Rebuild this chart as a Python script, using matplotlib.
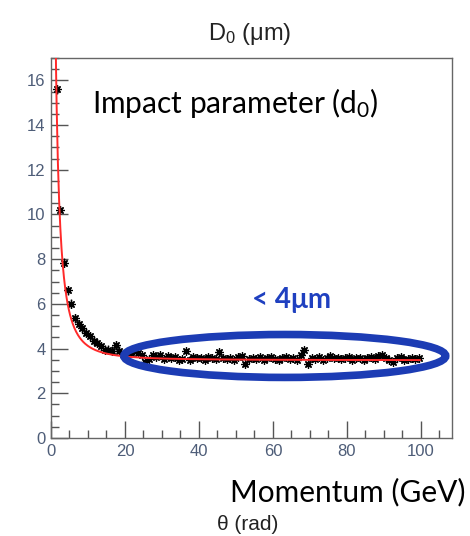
import numpy as np
import matplotlib
matplotlib.use("Agg")
import matplotlib.pyplot as plt
from matplotlib.patches import Ellipse
from matplotlib.ticker import MultipleLocator

# Measured impact-parameter resolution per momentum bin (1 GeV bins)
bin_low = 1.0
bin_width = 1.0
d0_res = [
    15.6, 10.2, 7.85, 6.6, 6.0, 5.35, 5.1, 4.9, 4.7, 4.55,
    4.35, 4.25, 4.1, 3.95, 3.95, 3.9, 4.15, 3.9, 3.75, 3.7,
    3.8, 3.95, 3.8, 3.7, 3.4, 3.55, 3.7, 3.62, 3.72, 3.55,
    3.66, 3.58, 3.62, 3.48, 3.55, 3.9, 3.5, 3.62, 3.56, 3.6,
    3.5, 3.64, 3.57, 3.52, 3.85, 3.6, 3.55, 3.58, 3.5, 3.62,
    3.66, 3.3, 3.55, 3.6, 3.52, 3.64, 3.5, 3.58, 3.62, 3.55,
    3.48, 3.6, 3.64, 3.52, 3.58, 3.5, 3.7, 3.95, 3.3, 3.6,
    3.55, 3.62, 3.5, 3.6, 3.68, 3.56, 3.6, 3.52, 3.58, 3.62,
    3.5, 3.56, 3.6, 3.48, 3.58, 3.62, 3.55, 3.66, 3.72, 3.56,
    3.5, 3.42, 3.58, 3.62, 3.5, 3.55, 3.6, 3.52, 3.56,
]
d0_err = [0.2] * 20 + [0.12] * (len(d0_res) - 20)

# Fit: sigma(p) = sqrt(a^2 + (b/p)^2)
fit_a = 3.48
fit_b = 22.0
fit_range = (1.2, 99.7)

x_ticks = [0, 20, 40, 60, 80, 100]
y_ticks = [0, 2, 4, 6, 8, 10, 12, 14, 16]

fig = plt.figure(figsize=(4.70, 5.36), dpi=100)
ax = fig.add_axes([51 / 470, 1 - 438 / 536, 401 / 470, 380 / 536])

x = bin_low + bin_width * (np.arange(len(d0_res)) + 0.5)
ax.errorbar(x, d0_res, yerr=d0_err, xerr=bin_width / 2, fmt="none",
            ecolor="black", elinewidth=1.0, capsize=0, zorder=3)
ax.plot(x, d0_res, linestyle="none", marker=(8, 2, 0), markersize=6,
        markeredgewidth=0.9, color="black", zorder=4)

p = np.linspace(fit_range[0], fit_range[1], 600)
ax.plot(p, np.sqrt(fit_a ** 2 + (fit_b / p) ** 2), color="#ff2a2a",
        lw=1.4, zorder=5)

ax.set_xlim(0, 108.4)
ax.set_ylim(0, 17)
ax.set_xticks(x_ticks)
ax.set_yticks(y_ticks)
ax.xaxis.set_minor_locator(MultipleLocator(5))
ax.yaxis.set_minor_locator(MultipleLocator(0.5))

label_color = "#4e5d78"
frame_color = "#666666"
for s in ax.spines.values():
    s.set_color(frame_color)
    s.set_linewidth(1.0)
ax.tick_params(which="both", direction="in", color="#555555", width=1.0,
               labelcolor=label_color, labelsize=12, top=False, right=False)
ax.tick_params(which="major", length=12, pad=4)
ax.tick_params(which="minor", length=6)
for lab in ax.get_xticklabels() + ax.get_yticklabels():
    lab.set_family("Liberation Sans")

# Region of interest: flat resolution plateau
ell_color = "#1c3cb4"
ax.add_patch(Ellipse((63.2, 3.67), 87.0, 1.92, fill=False,
                     edgecolor=ell_color, lw=5.5, zorder=6, clip_on=False))
ax.text(64.9, 6.17, "< 4μm", color="#1f40c0", fontsize=20,
        fontweight="bold", family="Lato", ha="center", va="center")

ax.text(41 / 401, 1 - 45 / 380, "Impact parameter (d$\\mathregular{_0}$)",
        transform=ax.transAxes, fontsize=21.5, family="Lato",
        ha="left", va="center", color="black")

fig.text(250 / 470, 1 - 34 / 536, "D$\\mathregular{_0}$ (μm)",
         fontsize=17, family="Liberation Sans", color="#222222",
         ha="center", va="center")
fig.text(465 / 470, 1 - 492 / 536, "Momentum (GeV)", fontsize=21.5,
         family="Lato", ha="right", va="center", color="black")
fig.text(248 / 470, 1 - 525 / 536, "θ (rad)", fontsize=15,
         family="Liberation Sans", ha="center", va="center",
         color="#222222")

fig.savefig("out.png", dpi=100)
